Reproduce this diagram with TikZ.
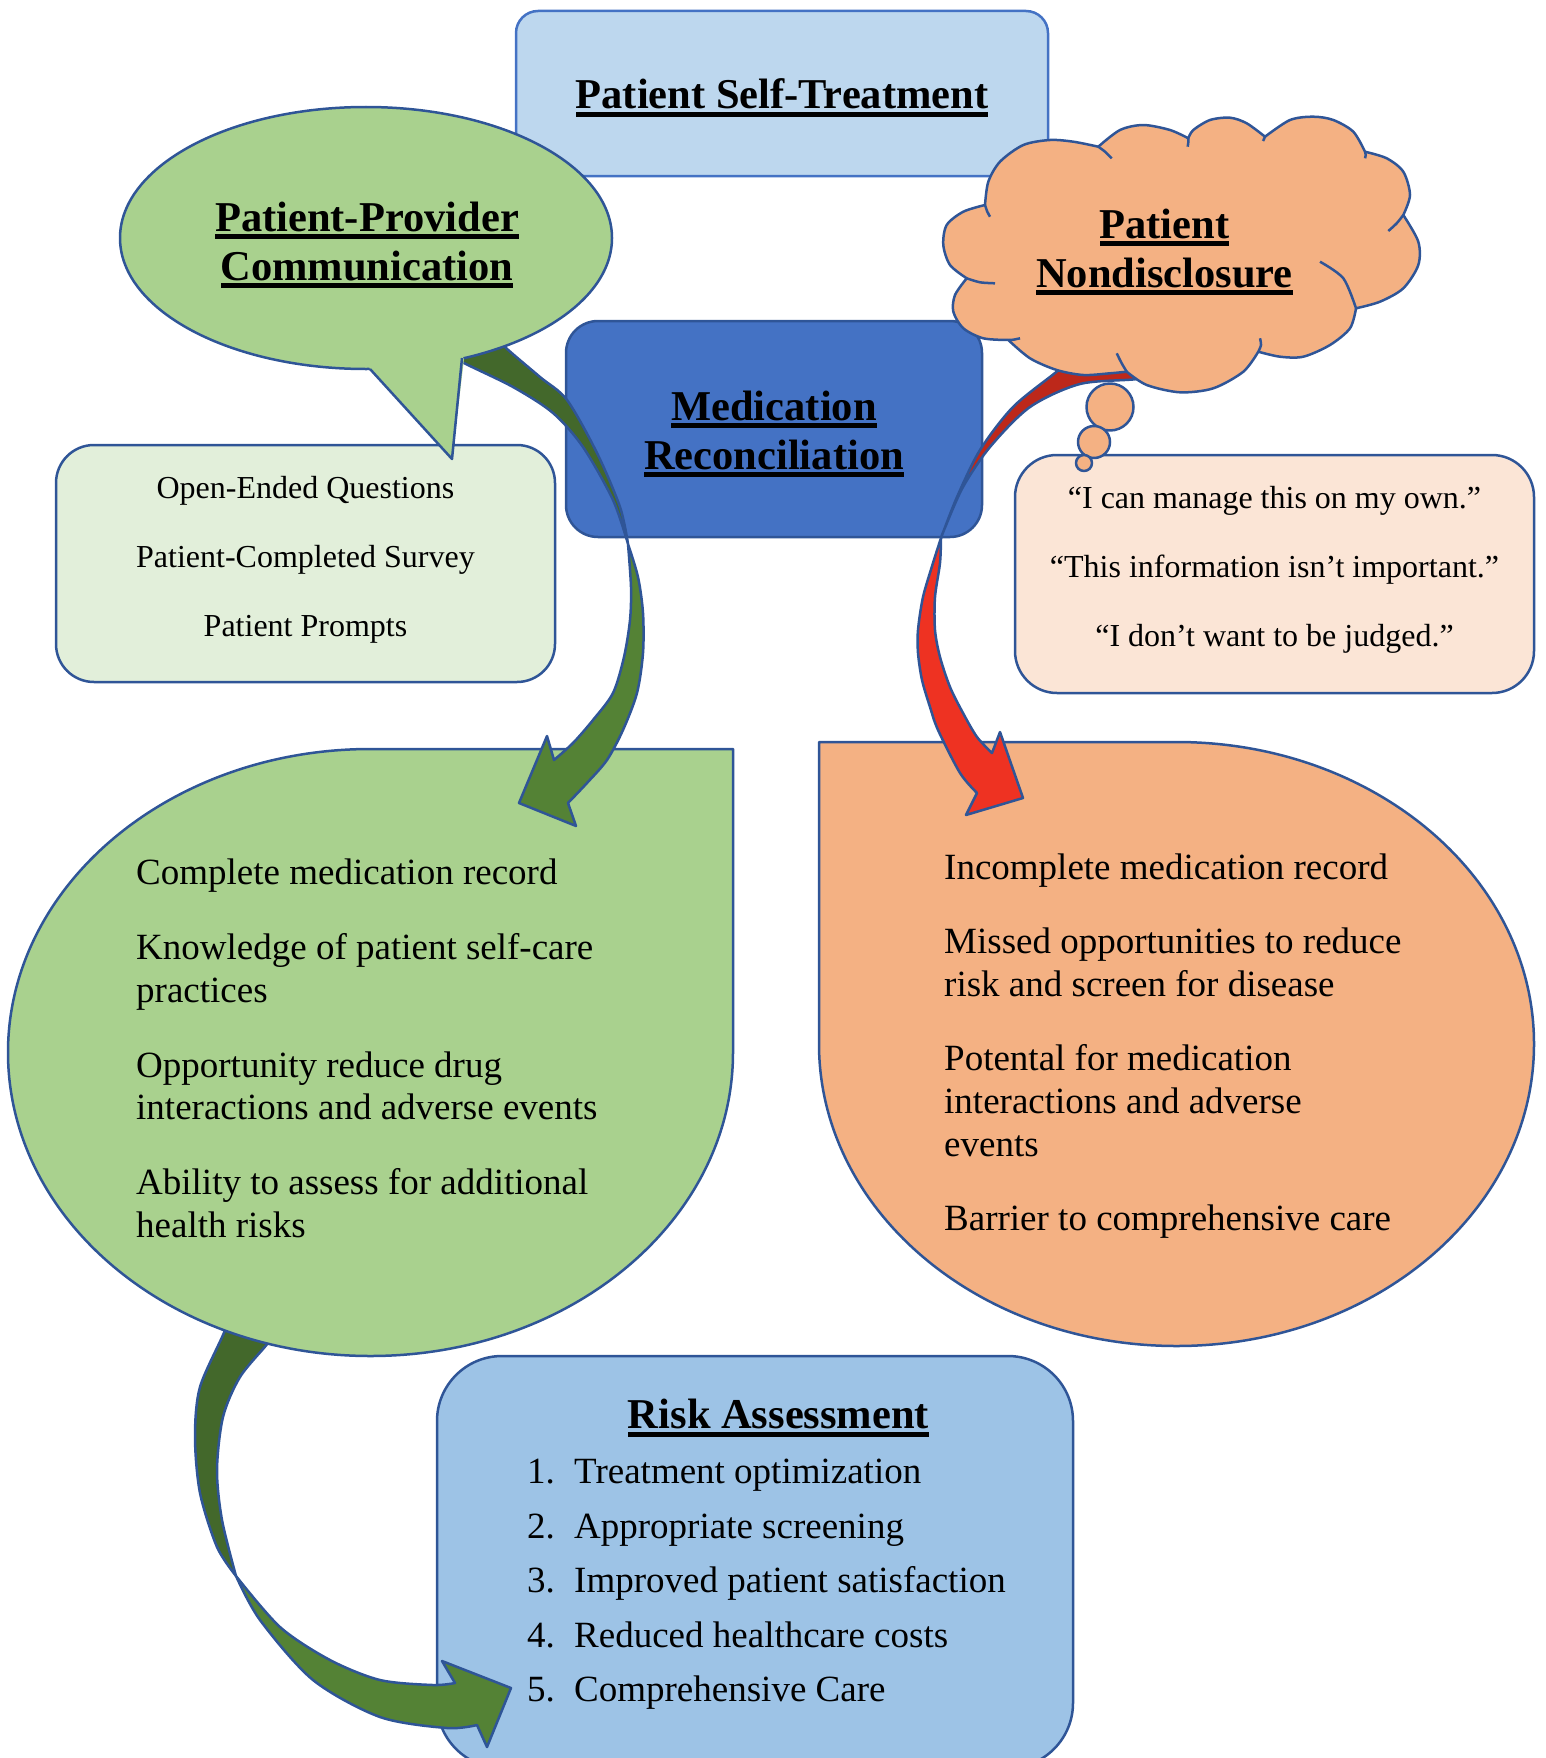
\documentclass[tikz,border=0pt]{standalone}
\usepackage{fontspec}
\setmainfont{Liberation Serif}
\usepackage{xcolor}
\usepackage{tikz}
\usetikzlibrary{positioning,shapes}

\definecolor{edgeblue}{HTML}{2F5597}
\definecolor{selfblue}{HTML}{BDD7EE}
\definecolor{selfedge}{HTML}{4472C4}
\definecolor{medblue}{HTML}{4472C4}
\definecolor{riskblue}{HTML}{9DC3E6}
\definecolor{leafgreen}{HTML}{A9D18E}
\definecolor{palegreen}{HTML}{E2EFDA}
\definecolor{peach}{HTML}{F4B183}
\definecolor{palepeach}{HTML}{FBE5D6}
\definecolor{arrowgreen}{HTML}{548235}
\definecolor{arrowgreendark}{HTML}{43682B}
\definecolor{arrowred}{HTML}{EE3222}
\definecolor{arrowreddark}{HTML}{BD281A}

\newsavebox{\ttlbox}
\newcommand{\ttl}[1]{\sbox{\ttlbox}{#1}\rlap{\rule[-0.19em]{\wd\ttlbox}{0.12em}}\usebox{\ttlbox}}

\begin{document}
\begin{tikzpicture}[x=1pt, y=-1pt,
        LineStyle/.style = { draw = edgeblue, line width = 2.5pt, line join = round },
        BoxStyle/.style = { rectangle, rounded corners = #1, LineStyle, inner sep = 0pt },
        TitleStyle/.style = { font = \fontsize{42.5}{49}\selectfont\bfseries,
          align = center, inner sep = 0pt },
        BodyStyle/.style = { font = \fontsize{37}{42.5}\selectfont,
          align = left, inner sep = 0pt, anchor = north west },
        SmallStyle/.style = { font = \fontsize{32}{69}\selectfont,
          align = center, inner sep = 0pt },
        GreenDark/.style = { LineStyle, fill = arrowgreendark },
        GreenLight/.style = { LineStyle, fill = arrowgreen },
        RedDark/.style = { LineStyle, fill = arrowreddark },
        RedLight/.style = { LineStyle, fill = arrowred }
      ]
      \useasboundingbox (0,0) rectangle (1546,1758);

      % boxes
      \node[BoxStyle=22, draw=selfedge, fill=selfblue, minimum width=532pt,
        minimum height=165pt] (selftreat) at (782,93.5) {};
      \node[TitleStyle, yshift=-4.5pt] (selftitle) at (selftreat.center)
        {\ttl{Patient Self-Treatment}};
      \node[BoxStyle=32, fill=medblue, minimum width=416pt,
        minimum height=216pt] (medrec) at (774,429) {};
      \node[TitleStyle, yshift=-5pt] (medtitle) at (medrec.center)
        {\ttl{Medication}\\\ttl{Reconciliation}};
      \node[BoxStyle=38, fill=palegreen, minimum width=499pt,
        minimum height=237pt] (askbox) at (305.5,563.5) {};
      \node[SmallStyle, below=32.5pt of askbox.north] (asktext)
        {Open-Ended Questions\\Patient-Completed Survey\\Patient Prompts};
      \node[BoxStyle=42, fill=palepeach, minimum width=519pt,
        minimum height=238pt] (quotebox) at (1274.5,574) {};
      \node[SmallStyle, below=32.5pt of quotebox.north] (quotetext)
        {“I can manage this on my own.”\\“This information isn’t important.”\\“I don’t want to be judged.”};
      \node[BoxStyle=65, fill=riskblue, minimum width=636pt,
        minimum height=412pt] (riskbox) at (755,1562) {};

      % arrow to risk assessment
      \draw[GreenDark] plot[smooth] coordinates {(222,1320) (225,1330) (200,1387)
          (195,1437) (200,1493) (217,1547) (236,1576)}
        -- plot[smooth] coordinates {(236,1576) (222,1520) (217,1470) (223,1417)
          (240,1377) (268,1343) (272,1333)} -- cycle;
      \draw[GreenLight] plot[smooth] coordinates {(236,1576) (260,1620) (313,1680)
          (380,1717) (447,1728) (477,1725)}
        -- (487,1747) -- (511,1688) -- (442,1661)
        -- plot[smooth] coordinates {(455,1683) (433,1685) (380,1680) (330,1660)
          (280,1627) (236,1576)} -- cycle;

      % outcomes
      \draw[LineStyle, fill=leafgreen] (733,749) -- (733,1052.5)
        .. controls (733,1220.1) and (570.7,1356) .. (370.5,1356)
        .. controls (170.3,1356) and (8,1220.1) .. (8,1052.5)
        .. controls (8,884.9) and (170.3,749) .. (370.5,749) -- cycle;
      \draw[LineStyle, fill=peach] (819,742) -- (1176.5,742)
        .. controls (1373.9,742) and (1534,877.2) .. (1534,1044)
        .. controls (1534,1210.8) and (1373.9,1346) .. (1176.5,1346)
        .. controls (979.1,1346) and (819,1210.8) .. (819,1044) -- cycle;
      \node[BodyStyle] (gaintext) at (136,859)
        {Complete medication record\\[32.5pt]
         Knowledge of patient self-care\\practices\\[32.5pt]
         Opportunity reduce drug\\interactions and adverse events\\[32.5pt]
         Ability to assess for additional\\health risks};
      \node[BodyStyle, font=\fontsize{37}{43}\selectfont] (losstext) at (944,854)
        {Incomplete medication record\\[31pt]
         Missed opportunities to reduce\\risk and screen for disease\\[31pt]
         Potental for medication\\interactions and adverse\\events\\[31pt]
         Barrier to comprehensive care};
      \node[TitleStyle, below=44.5pt of riskbox.north, xshift=23.5pt] (risktitle)
        {\ttl{Risk Assessment}};
      \node[BodyStyle, font=\fontsize{37}{54.5}\selectfont] (risklist) at (527,1459)
        {\makebox[47pt][l]{1.}Treatment optimization\\
         \makebox[47pt][l]{2.}Appropriate screening\\
         \makebox[47pt][l]{3.}Improved patient satisfaction\\
         \makebox[47pt][l]{4.}Reduced healthcare costs\\
         \makebox[47pt][l]{5.}Comprehensive Care};

      % curved arrows
      \draw[GreenDark] plot[smooth] coordinates {(500,338) (505,347) (540,377)
          (567,400) (597,453) (620,507) (628,544)}
        -- plot[smooth] coordinates {(628,544) (613,500) (583,447) (553,413)
          (513,387) (462,362) (455,355)} -- cycle;
      \draw[GreenLight] plot[smooth] coordinates {(628,544) (638,577) (643,613)
          (643,653) (637,693) (623,730) (607,760) (587,783) (568,803)}
        -- (576,826) -- (519,803) -- (547,736)
        -- plot[smooth] coordinates {(554,760) (573,743) (593,720) (613,693)
          (624,657) (630,620) (631,587) (628,544)} -- cycle;
      \draw[RedDark] plot[smooth] coordinates {(1062,366) (1055,373) (1013,407)
          (980,450) (957,497) (941,538)}
        -- plot[smooth] coordinates {(941,538) (944,530) (963,487) (990,447)
          (1030,407) (1080,384) (1137,379) (1150,372)} -- cycle;
      \draw[RedLight] plot[smooth] coordinates {(941,538) (933,563) (923,597)
          (918,630) (918,653) (922,680) (930,707) (938,730) (960,773) (977,793)}
        -- (966,815) -- (1023,798) -- (1000,732)
        -- plot[smooth] coordinates {(992,753) (977,737) (963,713) (950,687)
          (940,657) (935,630) (935,597) (940,563) (941,538)} -- cycle;

      % speech bubble
      \draw[LineStyle, fill=leafgreen] (366,238) ellipse (246 and 131);
      \fill[leafgreen] (366,360) -- (371,371) -- (452,459) -- (464,359)
        -- (460,352) -- cycle;
      \draw[LineStyle] (370,369) -- (452,459) -- (462,358);
      \node[TitleStyle] (pptitle) at (367,245)
        {\ttl{Patient-Provider}\\\ttl{Communication}};

      % thought cloud
      \draw[LineStyle, fill=peach]
        plot[smooth] coordinates {(1098.3,146.7) (1073.3,141.7) (1050,140)
          (1023.3,145) (1000,161.7) (988.3,181.7) (985,205)}
        -- plot[smooth] coordinates {(985,205) (963.3,211.7) (946.7,225)
          (943.3,245) (950,265) (966.7,278.3)}
        -- plot[smooth] coordinates {(966.7,278.3) (955,295) (953.3,311.7)
          (963.3,328.3) (983.3,338.3) (1008.3,340)}
        -- plot[smooth] coordinates {(1008.3,340) (1030,358.3) (1056.7,370)
          (1083.3,375) (1110,373.3) (1126.7,371.7)}
        -- plot[smooth] coordinates {(1126.7,371.7) (1146.7,385) (1180,392.3)
          (1213.3,388.3) (1243.3,371.7) (1258.3,351.7)}
        -- plot[smooth] coordinates {(1258.3,351.7) (1280,356.7) (1303.3,356.7)
          (1330,345) (1350,328.3) (1356,308.3)}
        -- plot[smooth] coordinates {(1356,308.3) (1380,301.7) (1403.3,288.3)
          (1418.3,265) (1418.3,241.7) (1403.3,215)}
        -- plot[smooth] coordinates {(1403.3,215) (1410,195) (1403.3,171.7)
          (1386.7,158.3) (1365,151.7)}
        -- plot[smooth] coordinates {(1365,151.7) (1353.3,131.7) (1333.3,120)
          (1313.3,116.7) (1290,120) (1265,136.7)}
        -- plot[smooth] coordinates {(1265,136.7) (1246.7,123.3) (1230,117.7)
          (1210,120) (1193.3,130) (1188.3,138.3)}
        -- plot[smooth] coordinates {(1188.3,138.3) (1170,130) (1143.3,125)
          (1120,130) (1098.3,146.7)} -- cycle;
      \draw[LineStyle]
        plot[smooth] coordinates {(985,205) (987.3,211.7) (990,216.7)}
        plot[smooth] coordinates {(966.7,278.3) (980,282.3) (995,283.3)}
        plot[smooth] coordinates {(1008.3,340) (1013.3,339.7) (1020,338.3)}
        plot[smooth] coordinates {(1116.7,353.3) (1121.7,363.3) (1126.7,371.7)}
        plot[smooth] coordinates {(1260,338.3) (1261,345) (1258.3,351.7)}
        plot[smooth] coordinates {(1320,261.7) (1343.3,278.3) (1356,308.3)}
        plot[smooth] coordinates {(1388.3,231) (1396.7,223.3) (1403.3,215)}
        plot[smooth] coordinates {(1365,158.3) (1365.7,155) (1365,151.7)}
        plot[smooth] coordinates {(1263,141) (1264,139) (1265,136.7)}
        plot[smooth] coordinates {(1187.7,146.7) (1188.3,142.3) (1188.3,138.3)}
        plot[smooth] coordinates {(1111.7,158.3) (1105,151.7) (1098.3,146.7)};
      \draw[LineStyle, fill=peach] (1110,407) circle (23.5);
      \draw[LineStyle, fill=peach] (1094,442) circle (16);
      \draw[LineStyle, fill=peach] (1084,463) circle (8);
      \node[TitleStyle] (pndtitle) at (1164.5,252)
        {\ttl{Patient}\\\ttl{Nondisclosure}};
    \end{tikzpicture}
\end{document}
